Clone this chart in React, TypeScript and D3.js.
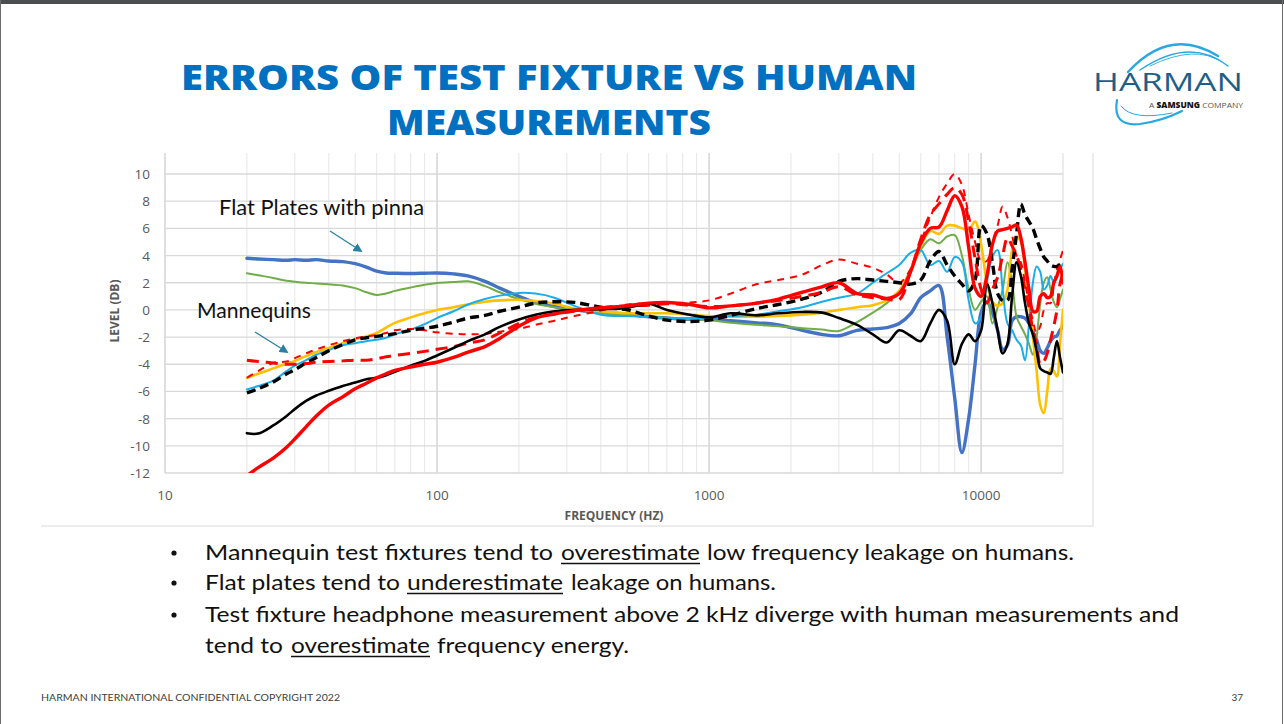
import React from 'react';
import * as d3 from 'd3';

// ---------- DATA ----------
const freqs = [20, 22, 25, 28, 30, 33, 36, 40, 45, 50, 55, 60, 65, 70, 80, 90, 100, 115, 130, 150, 170, 200, 230, 270, 320, 400, 500, 600, 700, 850, 1000, 1200, 1500, 1800, 2200, 2600, 3000, 3500, 4000, 4500, 5000, 5500, 6000, 6500, 7000, 7500, 8000, 8500, 9000, 9500, 10000, 10500, 11000, 11500, 12000, 12500, 13000, 13500, 14000, 14500, 15000, 15500, 16000, 16500, 17000, 17500, 18000, 18500, 19000, 19500, 20000];

const flatPlateBlue = [3.8, 3.75, 3.7, 3.65, 3.7, 3.65, 3.7, 3.6, 3.55, 3.4, 3.15, 2.85, 2.72, 2.7, 2.68, 2.7, 2.72, 2.65, 2.5, 2.1, 1.6, 1.0, 0.55, 0.25, 0.0, -0.2, -0.35, -0.5, -0.6, -0.7, -0.7, -0.8, -0.95, -1.1, -1.5, -1.8, -1.9, -1.5, -1.4, -1.3, -1.0, -0.3, 0.9, 1.4, 1.8, -2.0, -6.5, -10.5, -8.0, -4.0, -0.2, 0.6, -0.2, -1.5, -2.9, -2.6, -0.8, -0.5, -0.5, -0.6, -1.0, -1.6, -2.2, -3.0, -3.2, -2.8, -2.3, -2.0, -1.9, -1.5, -1.2];

const flatPlateGreen = [2.7, 2.55, 2.35, 2.15, 2.08, 2.0, 1.95, 1.88, 1.8, 1.6, 1.3, 1.1, 1.2, 1.4, 1.65, 1.85, 1.98, 2.05, 2.1, 1.75, 1.3, 0.8, 0.45, 0.2, 0.0, -0.25, -0.4, -0.5, -0.6, -0.7, -0.75, -0.95, -1.1, -1.2, -1.35, -1.45, -1.55, -0.9, -0.2, 0.5, 1.4, 2.9, 4.4, 5.2, 4.9, 5.4, 5.5, 4.0, 1.5, 0.0, 0.6, 1.0, -1.0, 0.2, 1.5, 3.5, 2.0, -0.5, -1.2, -1.8, -2.5, -3.3, -2.0, 0.5, 2.0, 2.4, 1.5, 0.6, 0.2, 0.8, 1.5];

const mannequinYellow = [-5.0, -4.7, -4.3, -3.95, -3.75, -3.4, -3.1, -2.8, -2.45, -2.15, -1.95, -1.7, -1.3, -0.95, -0.55, -0.25, 0.0, 0.2, 0.4, 0.6, 0.7, 0.75, 0.65, 0.45, 0.1, -0.1, -0.25, -0.25, -0.25, -0.35, -0.45, -0.5, -0.5, -0.45, -0.35, -0.2, 0.0, 0.2, 0.35, 0.7, 1.4, 2.9, 4.7, 5.8, 5.6, 6.2, 6.2, 6.0, 5.9, 6.5, 4.8, 2.0, 0.6, 0.3, 0.5, 1.5, 4.4, 5.4, 5.0, 3.0, 0.5, -2.0, -4.5, -7.0, -7.6, -6.0, -4.3, -4.5, -4.9, -2.5, 0.0];

const mannequinCyan = [-5.85, -5.6, -5.2, -4.5, -4.1, -3.7, -3.3, -2.95, -2.6, -2.45, -2.3, -2.2, -2.05, -1.8, -1.45, -1.05, -0.6, -0.1, 0.4, 0.8, 1.05, 1.25, 1.2, 0.9, 0.3, -0.35, -0.45, -0.5, -0.6, -0.6, -0.55, -0.45, -0.35, -0.1, 0.2, 0.6, 0.9, 1.2, 2.0, 2.7, 3.3, 4.2, 4.4, 3.3, 3.6, 2.8, 3.9, 3.5, 0.7, -1.0, -0.5, 2.0, 3.9, 4.4, 1.5, -1.0, -1.5, -2.2, -2.6, -3.7, -1.0, 2.0, 3.2, 2.8, 1.5, 1.8, 2.5, 2.0, 2.5, 3.0, 3.4];

const mannequinBlackDashed = [-6.1, -5.8, -5.3, -4.7, -4.4, -3.9, -3.5, -3.0, -2.55, -2.2, -2.05, -1.95, -1.85, -1.75, -1.5, -1.35, -1.2, -0.9, -0.6, -0.4, -0.1, 0.2, 0.5, 0.6, 0.55, 0.2, 0.0, -0.45, -0.75, -0.85, -0.75, -0.4, 0.1, 0.4, 0.8, 1.3, 2.1, 2.3, 2.2, 2.1, 2.0, 1.9, 2.2, 3.6, 4.3, 3.3, 2.5, 1.9, 1.4, 2.2, 6.2, 5.6, 3.5, 1.2, 0.7, 0.7, 3.0, 5.6, 7.8, 7.0, 6.5, 6.0, 5.2, 4.5, 3.9, 3.6, 3.3, 3.2, 3.2, 3.3, 3.4];

const humanBlack = [-9.07, -9.1, -8.5, -7.8, -7.3, -6.7, -6.3, -5.95, -5.6, -5.35, -5.1, -5.0, -4.8, -4.55, -4.1, -3.75, -3.35, -2.8, -2.3, -1.8, -1.25, -0.7, -0.35, -0.1, 0.0, 0.05, 0.15, 0.45, 0.0, -0.35, -0.55, -0.25, -0.4, -0.25, -0.15, -0.2, -0.6, -1.1, -1.8, -2.4, -1.5, -1.9, -2.3, -1.0, 0.0, -0.8, -4.0, -2.5, -1.8, -2.3, -1.5, 1.9, 0.5, -1.5, -3.2, -2.5, 1.0, 3.5, 2.5, 0.5, -1.0, -1.8, -3.0, -4.3, -4.5, -4.6, -4.7, -3.5, -2.3, -3.5, -4.6];

const humanRed = [-12.2, -11.6, -10.9, -10.1, -9.5, -8.6, -7.8, -7.0, -6.4, -5.8, -5.4, -5.0, -4.7, -4.45, -4.2, -4.0, -3.85, -3.5, -3.1, -2.7, -2.1, -1.2, -0.6, -0.3, -0.05, 0.15, 0.3, 0.5, 0.55, 0.4, 0.15, 0.3, 0.5, 0.8, 1.3, 1.7, 2.0, 1.2, 1.1, 0.85, 1.2, 2.8, 4.9, 6.0, 6.1, 7.3, 8.4, 7.6, 4.6, 1.6, 1.0, 2.5, 4.8, 5.8, 5.9, 6.0, 6.1, 6.25, 5.3, 3.5, 1.5, -0.1, -0.1, 1.0, 1.2, 0.9, 1.0, 2.0, 2.5, 3.2, 2.0];

const humanRedDashed = [-3.7, -3.8, -3.9, -4.0, -4.0, -3.95, -3.85, -3.8, -3.75, -3.7, -3.7, -3.6, -3.45, -3.35, -3.2, -3.05, -2.9, -2.7, -2.45, -2.2, -1.7, -1.0, -0.55, -0.3, -0.1, 0.15, 0.3, 0.35, 0.45, 0.35, 0.25, 0.3, 0.5, 0.7, 1.0, 1.3, 1.7, 1.1, 0.9, 0.8, 0.75, 2.8, 5.2, 7.0, 7.8, 8.5, 9.0, 8.5, 6.5, 3.8, 1.5, 0.5, 1.5, 2.4, 4.0, 5.3, 4.7, 4.0, 3.0, 1.5, 0.2, -1.5, -2.5, -4.0, -3.8, -3.2, -2.2, -1.2, 0.0, 1.9, 2.7];

const humanRedThinDashed = [-5.0, -4.5, -3.9, -3.8, -3.55, -3.2, -2.9, -2.6, -2.3, -2.1, -1.95, -1.85, -1.7, -1.5, -1.4, -1.5, -1.65, -1.75, -1.8, -1.75, -1.6, -1.4, -1.1, -0.8, -0.45, -0.05, 0.4, 0.5, 0.5, 0.55, 0.7, 1.2, 1.9, 2.2, 2.6, 3.3, 3.7, 3.4, 3.1, 2.6, 2.0, 3.0, 5.0, 6.8, 8.3, 9.3, 10.0, 9.2, 7.0, 5.0, 3.6, 3.6, 5.0, 6.2, 7.6, 6.8, 5.5, 4.0, 3.5, 2.0, 0.5, -0.8, -1.7, -1.2, 0.0, 0.5, 0.5, 1.8, 3.0, 3.7, 4.4];

const yTickValues = [-12, -10, -8, -6, -4, -2, 0, 2, 4, 6, 8, 10];
const xTickValues = [10, 100, 1000, 10000];

const titleLines = ['ERRORS OF TEST FIXTURE VS HUMAN', 'MEASUREMENTS'];

// ---------- STYLE / LAYOUT ----------
const W = 1284;
const H = 724;
const PLOT_LEFT = 165;
const PLOT_RIGHT = 1063;
const PLOT_TOP = 153;
const PLOT_BOTTOM = 473;

const x = d3.scaleLog().domain([10, 20000]).range([PLOT_LEFT, PLOT_RIGHT]);
const y = d3.scaleLinear().domain([-12, 10]).range([PLOT_BOTTOM, 174]);

const seriesDefs = [
  { values: flatPlateBlue, color: '#4472C4', width: 3.4, dash: undefined },
  { values: flatPlateGreen, color: '#70AD47', width: 2, dash: undefined },
  { values: mannequinYellow, color: '#FFC000', width: 2.6, dash: undefined },
  { values: mannequinCyan, color: '#1AAEE8', width: 2, dash: undefined },
  { values: humanRedThinDashed, color: '#FF0000', width: 2, dash: '7,6' },
  { values: mannequinBlackDashed, color: '#000000', width: 3.4, dash: '9,5' },
  { values: humanRedDashed, color: '#FF0000', width: 3, dash: '12,7' },
  { values: humanBlack, color: '#000000', width: 2.6, dash: undefined },
  { values: humanRed, color: '#FF0000', width: 3.4, dash: undefined },
];

const gridFreqs: { f: number; major: boolean }[] = [];
[10, 100, 1000, 10000].forEach((d) => {
  for (let m = 1; m <= 9; m++) {
    const f = d * m;
    if (f <= 20000) gridFreqs.push({ f, major: m === 1 });
  }
});
gridFreqs.push({ f: 20000, major: false });

const lineGen = d3
  .line<number>()
  .x((_, i) => x(freqs[i]))
  .y((v) => y(v))
  .curve(d3.curveCatmullRom.alpha(0.5));

const bulletFont = 'Lato, "Open Sans", sans-serif';
const chartFont = '"Open Sans", Lato, sans-serif';

function Seg({ x0, y0, len, text, underline }: { x0: number; y0: number; len: number; text: string; underline?: boolean }) {
  return (
    <g>
      <text x={x0} y={y0} textLength={len} lengthAdjust="spacingAndGlyphs" fontFamily={bulletFont} fontSize={22} fill="#111">
        {text}
      </text>
      {underline && <line x1={x0} x2={x0 + len} y1={y0 + 3.5} y2={y0 + 3.5} stroke="#111" strokeWidth={1.6} />}
    </g>
  );
}

export default function App() {
  return (
    <div style={{ position: 'absolute', left: 0, top: 0, width: W, height: H }}>
      <svg width={W} height={H} viewBox={`0 0 ${W} ${H}`} style={{ display: 'block', background: '#fff' }}>
        <defs>
          <clipPath id="plotClip">
            <rect x={PLOT_LEFT} y={PLOT_TOP} width={PLOT_RIGHT - PLOT_LEFT} height={PLOT_BOTTOM - PLOT_TOP} />
          </clipPath>
          <marker id="arrowHead" viewBox="0 0 10 10" refX="8" refY="5" markerWidth="7" markerHeight="7" orient="auto">
            <path d="M0,0 L10,5 L0,10 z" fill="#2B7FA3" />
          </marker>
        </defs>

        {/* slide frame */}
        <rect x={0} y={0} width={W} height={H} fill="#fff" />
        <rect x={0} y={0} width={W} height={4} fill="#4B4D51" />
        <line x1={0.5} x2={0.5} y1={0} y2={H} stroke="#6b6b6b" strokeWidth={1} />
        <line x1={W - 1.5} x2={W - 1.5} y1={0} y2={H} stroke="#6b6b6b" strokeWidth={1} />

        {/* title */}
        <text x={549} y={90} textAnchor="middle" textLength={736} lengthAdjust="spacingAndGlyphs" fontFamily='"Open Sans", Roboto, sans-serif' fontWeight={800} fontSize={35} fill="#0070C0">
          {titleLines[0]}
        </text>
        <text x={549} y={135} textAnchor="middle" textLength={324} lengthAdjust="spacingAndGlyphs" fontFamily='"Open Sans", Roboto, sans-serif' fontWeight={800} fontSize={35} fill="#0070C0">
          {titleLines[1]}
        </text>

        {/* logo */}
        <g fill="none" stroke="#29A8E0" strokeLinecap="round">
          <path d="M1128,72 Q1170,26 1218,56" strokeWidth={2.4} />
          <path d="M1140,70 Q1190,36 1228,66" strokeWidth={1.4} />
          <path d="M1150,66 Q1195,44 1222,62" strokeWidth={0.9} />
          <path d="M1117,100 Q1112,127 1140,124 Q1162,121 1182,111" strokeWidth={2.2} />
          <path d="M1121,106 Q1132,121 1172,113" strokeWidth={1.0} />
        </g>
        <text x={1093} y={91} textLength={150} lengthAdjust="spacingAndGlyphs" fontFamily='"Open Sans", sans-serif' fontWeight={400} fontSize={26} fill="#1D5F88">
          HARMAN
        </text>
        <text x={1149} y={107.5} textLength={94} lengthAdjust="spacingAndGlyphs" fontFamily='"Open Sans", sans-serif' fontSize={8} fill="#555">
          A <tspan fontWeight={800} fill="#111">SAMSUNG</tspan> COMPANY
        </text>

        {/* chart frame */}
        <line x1={41} x2={1093} y1={526} y2={526} stroke="#d9d9d9" strokeWidth={1} />
        <line x1={1093} x2={1093} y1={PLOT_TOP} y2={526} stroke="#d9d9d9" strokeWidth={1} />

        {/* gridlines */}
        {gridFreqs.map((g, i) => (
          <line
            key={'v' + i}
            x1={x(g.f)}
            x2={x(g.f)}
            y1={PLOT_TOP}
            y2={PLOT_BOTTOM}
            stroke={g.major ? '#c9c9c9' : '#e6e6e6'}
            strokeWidth={g.major ? 1.2 : 1}
          />
        ))}
        {yTickValues.map((v) => (
          <line key={'h' + v} x1={PLOT_LEFT} x2={PLOT_RIGHT} y1={y(v)} y2={y(v)} stroke="#d9d9d9" strokeWidth={1.3} />
        ))}

        {/* tick labels */}
        {yTickValues.map((v) => (
          <text key={'yl' + v} x={150} y={y(v) + 5} textAnchor="end" fontFamily={chartFont} fontSize={13.5} fill="#595959">
            {v}
          </text>
        ))}
        {xTickValues.map((f) => (
          <text key={'xl' + f} x={x(f)} y={500} textAnchor="middle" fontFamily={chartFont} fontSize={13.5} fill="#595959">
            {f}
          </text>
        ))}
        <text
          transform={`translate(119, 311) rotate(-90)`}
          textAnchor="middle"
          fontFamily={chartFont}
          fontWeight={700}
          fontSize={12}
          fill="#595959"
        >
          LEVEL (DB)
        </text>
        <text x={614} y={520} textAnchor="middle" fontFamily={chartFont} fontWeight={700} fontSize={12} fill="#595959">
          FREQUENCY (HZ)
        </text>

        {/* series */}
        <g clipPath="url(#plotClip)" fill="none" strokeLinejoin="round">
          {seriesDefs.map((s, i) => (
            <path
              key={'s' + i}
              d={lineGen(s.values) || ''}
              stroke={s.color}
              strokeWidth={s.width}
              strokeDasharray={s.dash}
              strokeLinecap={s.dash ? 'butt' : 'round'}
            />
          ))}
        </g>

        {/* annotations */}
        <text x={219} y={215} textLength={205} lengthAdjust="spacingAndGlyphs" fontFamily={bulletFont} fontSize={21} fill="#111">
          Flat Plates with pinna
        </text>
        <line x1={330} y1={231} x2={361} y2={251} stroke="#2B7FA3" strokeWidth={1.3} markerEnd="url(#arrowHead)" />
        <text x={197} y={318} textLength={114} lengthAdjust="spacingAndGlyphs" fontFamily={bulletFont} fontSize={21} fill="#111">
          Mannequins
        </text>
        <line x1={255} y1={332} x2={287} y2={352} stroke="#2B7FA3" strokeWidth={1.3} markerEnd="url(#arrowHead)" />

        {/* bullets */}
        {[560, 590, 622].map((by) => (
          <circle key={'b' + by} cx={174} cy={by - 7} r={2.6} fill="#111" />
        ))}
        <Seg x0={205} y0={560} len={348} text="Mannequin test fixtures tend  to" />
        <Seg x0={561} y0={560} len={139} text="overestimate" underline />
        <Seg x0={707} y0={560} len={367} text="low frequency leakage on humans." />

        <Seg x0={205} y0={590} len={195} text="Flat plates tend to" />
        <Seg x0={407} y0={590} len={156} text="underestimate" underline />
        <Seg x0={571} y0={590} len={205} text="leakage on humans." />

        <Seg x0={205} y0={622} len={974} text="Test fixture headphone measurement above 2 kHz diverge with human measurements and" />

        <Seg x0={205} y0={653} len={78} text="tend to" />
        <Seg x0={291} y0={653} len={139} text="overestimate" underline />
        <Seg x0={437} y0={653} len={192} text="frequency energy." />

        {/* footer */}
        <text x={41} y={701} textLength={299} lengthAdjust="spacingAndGlyphs" fontFamily={bulletFont} fontSize={10} fill="#404040">
          HARMAN INTERNATIONAL CONFIDENTIAL COPYRIGHT 2022
        </text>
        <text x={1243} y={701} textAnchor="end" fontFamily={bulletFont} fontSize={10} fill="#404040">
          37
        </text>
      </svg>
    </div>
  );
}
